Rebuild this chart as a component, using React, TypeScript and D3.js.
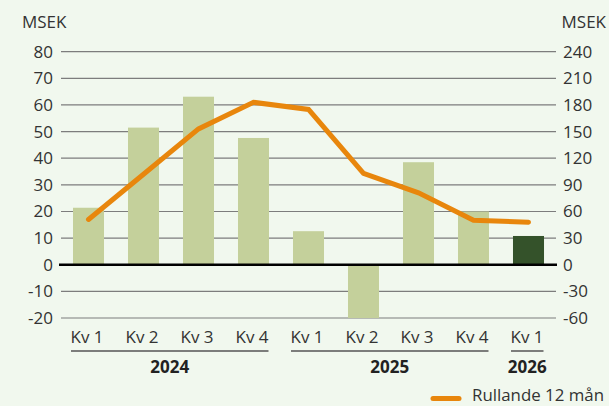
import React from "react";
import * as d3 from "d3";

const categories = ["2024-Q1", "2024-Q2", "2024-Q3", "2024-Q4", "2025-Q1", "2025-Q2", "2025-Q3", "2025-Q4", "2026-Q1"];
const quarterLabels = ["Kv 1", "Kv 2", "Kv 3", "Kv 4", "Kv 1", "Kv 2", "Kv 3", "Kv 4", "Kv 1"];
const quarterValues = [21.4, 51.5, 63.1, 47.6, 12.6, -20, 38.5, 20, 10.8];
const rolling12 = [51, 102, 153, 183, 175, 103, 81, 50, 48];
const years = ["2024", "2025", "2026"];
const yearStart = [0, 4, 8];
const yearEnd = [3, 7, 8];
const leftTicks = [80, 70, 60, 50, 40, 30, 20, 10, 0, -10, -20];
const rightTicks = [240, 210, 180, 150, 120, 90, 60, 30, 0, -30, -60];
const unitLabel = "MSEK";
const legendLabel = "Rullande 12 mån";

const W = 609;
const H = 406;
const FONT = "'Open Sans', 'Noto Sans', sans-serif";
const TEXT = "#333333";

export default function App() {
  const x = d3
    .scaleBand<string>()
    .domain(categories)
    .range([61, 556])
    .paddingInner(0.436)
    .paddingOuter(0.218);
  const yL = d3.scaleLinear().domain([-20, 80]).range([318, 51.7]);
  const yR = d3.scaleLinear().domain([-60, 240]).range([318, 51.7]);
  const cx = (i: number) => (x(categories[i]) as number) + x.bandwidth() / 2;

  const line = d3
    .line<number>()
    .x((_, i) => cx(i))
    .y((d) => yR(d));

  return (
    <div style={{ position: "fixed", left: 0, top: 0, width: W, height: H }}>
      <svg width={W} height={H} style={{ display: "block" }} fontFamily={FONT}>
        <rect x={0} y={0} width={W} height={H} fill="#f1f8ee" />
        {/* gridlines */}
        {leftTicks.filter((t) => t !== 0).map((t) => (
          <line key={"g" + t} x1={61} x2={556} y1={yL(t)} y2={yL(t)} stroke="#7d7d7d" strokeWidth={1.2} />
        ))}
        {/* bars */}
        {quarterValues.map((v, i) => (
          <rect
            key={"b" + i}
            x={x(categories[i]) as number}
            width={x.bandwidth()}
            y={Math.min(yL(v), yL(0))}
            height={Math.abs(yL(v) - yL(0))}
            fill={i === quarterValues.length - 1 ? "#34522a" : "#c4d09b"}
          />
        ))}
        {/* zero line */}
        <line x1={59} x2={557} y1={yL(0)} y2={yL(0)} stroke="#000" strokeWidth={2.6} />
        {/* rolling line */}
        <path
          d={line(rolling12) as string}
          fill="none"
          stroke="#e8860c"
          strokeWidth={5}
          strokeLinejoin="miter"
          strokeLinecap="round"
        />
        {/* left axis */}
        {leftTicks.map((t) => (
          <text key={"l" + t} x={53} y={yL(t)} dy="0.35em" textAnchor="end" fontSize={17} fill={TEXT}>
            {t}
          </text>
        ))}
        {rightTicks.map((t) => (
          <text key={"r" + t} x={563} y={yR(t)} dy="0.35em" textAnchor="start" fontSize={17} fill={TEXT}>
            {t}
          </text>
        ))}
        <text x={22} y={22} dy="0.35em" fontSize={17} fill={TEXT}>{unitLabel}</text>
        <text x={606} y={22} dy="0.35em" textAnchor="end" fontSize={17} fill={TEXT}>{unitLabel}</text>
        {/* category labels */}
        {quarterLabels.map((q, i) => (
          <text key={"q" + i} x={cx(i) - 1.5} y={337} dy="0.35em" textAnchor="middle" fontSize={17} fill={TEXT}>
            {q}
          </text>
        ))}
        {/* year groups */}
        {years.map((yr, k) => {
          const x1 = cx(yearStart[k]) - 17.5;
          const x2 = cx(yearEnd[k]) + 15;
          return (
            <g key={"y" + yr}>
              <line x1={x1} x2={x2} y1={351} y2={351} stroke="#555" strokeWidth={1.4} />
              <text x={(x1 + x2) / 2} y={367} dy="0.35em" textAnchor="middle" fontSize={17} fontWeight={700} fill="#222">
                {yr}
              </text>
            </g>
          );
        })}
        {/* legend */}
        <line x1={433} x2={459} y1={398.5} y2={398.5} stroke="#e8860c" strokeWidth={5} strokeLinecap="round" />
        <text
          x={472}
          y={395.5}
          dy="0.35em"
          fontSize={16}
          fill={TEXT}
          textLength={132}
          lengthAdjust="spacingAndGlyphs"
        >
          {legendLabel}
        </text>
      </svg>
    </div>
  );
}
